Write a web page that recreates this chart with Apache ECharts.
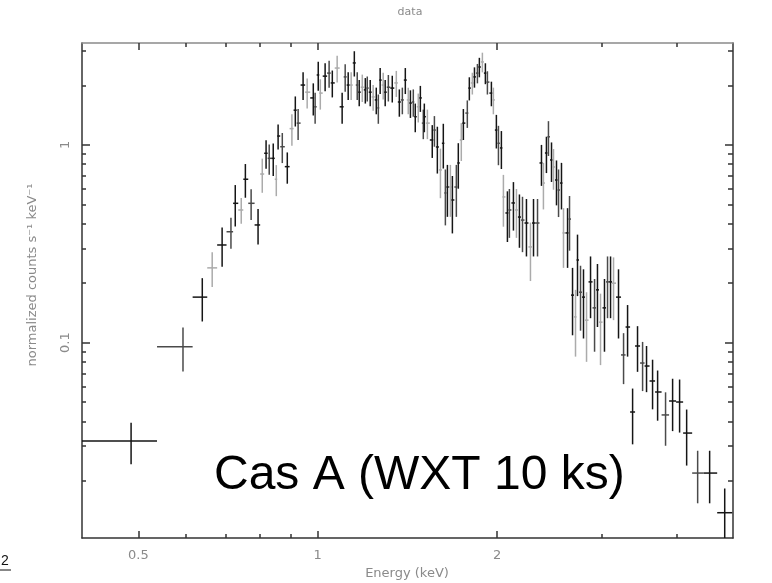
<!DOCTYPE html>
<html>
<head>
<meta charset="utf-8">
<script src="https://cdn.jsdelivr.net/npm/echarts@6/dist/echarts.min.js"></script>
<style>
html, body { margin: 0; padding: 0; background: #fff; }
#spec { width: 772px; height: 583px; }
</style>
</head>
<body>
<div id="spec"></div>
<script>
// channel energies (keV), normalized counts s^-1 keV^-1 and 1-sigma errors
var energy = [
  0.486, 0.594, 0.640, 0.665, 0.691, 0.715, 0.727, 0.744, 0.756, 0.773,
  0.794, 0.807, 0.819, 0.829, 0.842, 0.852, 0.858, 0.872, 0.889, 0.905,
  0.917, 0.927, 0.945, 0.960, 0.983, 0.990, 1.002, 1.010, 1.029, 1.045,
  1.058, 1.078, 1.099, 1.112, 1.125, 1.138, 1.152, 1.165, 1.174, 1.188,
  1.202, 1.211, 1.225, 1.239, 1.254, 1.264, 1.273, 1.288, 1.298, 1.314,
  1.334, 1.355, 1.371, 1.387, 1.403, 1.419, 1.431, 1.447, 1.458, 1.475,
  1.487, 1.504, 1.510, 1.528, 1.557, 1.570, 1.588, 1.607, 1.625, 1.638,
  1.651, 1.670, 1.683, 1.709, 1.722, 1.742, 1.756, 1.783, 1.797, 1.818,
  1.833, 1.854, 1.868, 1.890, 1.912, 1.927, 1.957, 1.972, 1.995, 2.011,
  2.034, 2.050, 2.082, 2.098, 2.131, 2.156, 2.181, 2.207, 2.241, 2.276,
  2.303, 2.339, 2.375, 2.393, 2.421, 2.440, 2.469, 2.488, 2.517, 2.537,
  2.566, 2.586, 2.627, 2.647, 2.678, 2.709, 2.730, 2.762, 2.794, 2.827,
  2.871, 2.916, 2.949, 2.984, 3.030, 3.066, 3.102, 3.138, 3.199, 3.262,
  3.313, 3.378, 3.443, 3.511, 3.565, 3.649, 3.721, 3.837, 3.943, 4.051,
  4.163, 4.344, 4.550, 4.823
];
var flux = [
  0.0318, 0.0955, 0.170, 0.239, 0.312, 0.364, 0.507, 0.469, 0.671, 0.507,
  0.394, 0.713, 0.908, 0.856, 0.856, 0.671, 1.11, 0.98, 0.777, 1.21,
  1.50, 1.29, 2.01, 1.85, 1.73, 1.56, 2.26, 1.83, 2.23, 2.31,
  2.06, 2.45, 1.56, 2.21, 2.01, 2.01, 2.60, 2.01, 1.85, 1.96,
  1.90, 1.94, 1.85, 1.75, 1.69, 1.54, 2.13, 2.01, 1.85, 1.96,
  1.94, 2.06, 1.65, 1.69, 2.13, 1.69, 1.63, 1.65, 1.39, 1.56,
  1.73, 1.29, 1.39, 1.29, 1.06, 1.19, 0.977, 0.748, 1.02, 0.572,
  0.613, 0.613, 0.527, 0.613, 0.811, 1.06, 1.29, 1.45, 1.94, 2.06,
  2.21, 2.31, 2.48, 2.63, 2.31, 2.08, 1.83, 1.69, 1.19, 1.02,
  0.966, 0.546, 0.453, 0.469, 0.509, 0.469, 0.432, 0.417, 0.403, 0.305,
  0.403, 0.403, 0.811, 0.642, 0.911, 1.10, 0.84, 0.774, 0.665, 0.592,
  0.642, 0.359, 0.359, 0.422, 0.174, 0.135, 0.262, 0.180, 0.170, 0.130,
  0.203, 0.150, 0.185, 0.127, 0.150, 0.203, 0.203, 0.200, 0.170, 0.0867,
  0.120, 0.0446, 0.0962, 0.0789, 0.0762, 0.0640, 0.0563, 0.0431, 0.0507, 0.0501,
  0.0349, 0.0219, 0.0219, 0.0138
];
var sigma = [
  0.0075, 0.024, 0.042, 0.048, 0.07, 0.065, 0.12, 0.07, 0.13, 0.09,
  0.08, 0.14, 0.15, 0.15, 0.16, 0.12, 0.16, 0.17, 0.14, 0.22,
  0.26, 0.23, 0.32, 0.32, 0.32, 0.28, 0.38, 0.32, 0.36, 0.36,
  0.32, 0.38, 0.28, 0.35, 0.32, 0.32, 0.38, 0.32, 0.28, 0.31,
  0.28, 0.28, 0.28, 0.26, 0.26, 0.26, 0.32, 0.31, 0.28, 0.3,
  0.3, 0.31, 0.26, 0.26, 0.32, 0.26, 0.26, 0.26, 0.23, 0.26,
  0.26, 0.22, 0.23, 0.22, 0.2, 0.21, 0.26, 0.21, 0.26, 0.18,
  0.18, 0.18, 0.17, 0.18, 0.21, 0.23, 0.23, 0.23, 0.26, 0.26,
  0.26, 0.26, 0.28, 0.3, 0.28, 0.28, 0.26, 0.26, 0.23, 0.23,
  0.21, 0.16, 0.13, 0.13, 0.14, 0.13, 0.13, 0.13, 0.13, 0.1,
  0.13, 0.13, 0.19, 0.17, 0.19, 0.22, 0.19, 0.18, 0.17, 0.16,
  0.17, 0.12, 0.12, 0.13, 0.065, 0.05, 0.09, 0.065, 0.065, 0.05,
  0.07, 0.06, 0.065, 0.05, 0.06, 0.07, 0.07, 0.07, 0.065, 0.025,
  0.035, 0.014, 0.025, 0.022, 0.02, 0.018, 0.016, 0.013, 0.015, 0.015,
  0.011, 0.0065, 0.0065, 0.0045
];

// axis ranges and ticks
var xRange = [0.402, 4.98];
var yRange = [0.01028, 3.28];
var majorX = [0.5, 1, 2];
var minorX = [0.6, 0.7, 0.8, 0.9, 3, 4];
var majorY = [0.1, 1];
var minorY = [0.02, 0.03, 0.04, 0.05, 0.06, 0.07, 0.08, 0.09,
              0.2, 0.3, 0.4, 0.5, 0.6, 0.7, 0.8, 0.9, 2, 3];
var firstBinLo = 0.38;

var lg = Math.log10;
var myChart = echarts.init(document.getElementById('spec'));

// bins: edges halfway (in log) between neighbouring channels
var points = [];
for (var i = 0; i < energy.length; i++) {
    var lo = i === 0 ? firstBinLo : Math.sqrt(energy[i - 1] * energy[i]);
    var hi = i === energy.length - 1 ? energy[i] * energy[i] / lo : Math.sqrt(energy[i] * energy[i + 1]);
    var fLo = Math.max(flux[i] - sigma[i], 1e-4);
    points.push([lg(energy[i]), lg(flux[i]), lg(lo), lg(hi), lg(fLo), lg(flux[i] + sigma[i])]);
}

function renderBar(params, api) {
    var a = api.coord([api.value(2), api.value(1)]);
    var b = api.coord([api.value(3), api.value(1)]);
    var t = api.coord([api.value(0), api.value(5)]);
    var d = api.coord([api.value(0), api.value(4)]);
    var k = params.dataIndex % 4;
    var col = '#151515';
    if (k === 3 && params.dataIndex < 128) col = '#ababab';
    else if (k === 1) col = '#4a4a4a';
    return {
        type: 'group',
        children: [
            { type: 'line', shape: { x1: a[0], y1: a[1], x2: b[0], y2: b[1] }, style: { stroke: col, lineWidth: 1.5 } },
            { type: 'line', shape: { x1: t[0], y1: t[1], x2: d[0], y2: d[1] }, style: { stroke: col, lineWidth: 1.5 } }
        ]
    };
}

function fmt(v) {
    return String(+Math.pow(10, v).toPrecision(3));
}

function xAxisDef(pos, ticks, len, lineOn, labelOn) {
    return {
        type: 'value',
        min: lg(xRange[0]),
        max: lg(xRange[1]),
        position: pos,
        axisLine: { show: lineOn, onZero: false, lineStyle: { color: pos === 'top' ? '#8a8a8a' : '#333', width: 1.5 } },
        axisTick: { show: true, inside: true, length: len, customValues: ticks.map(lg), lineStyle: { color: '#333', width: 1.5 } },
        axisLabel: {
            show: labelOn,
            customValues: majorX.map(lg),
            formatter: fmt,
            color: '#8a8a8a',
            fontSize: 13,
            fontFamily: 'DejaVu Sans',
            margin: 11
        },
        splitLine: { show: false }
    };
}

function yAxisDef(pos, ticks, len, lineOn, labelOn) {
    return {
        type: 'value',
        min: lg(yRange[0]),
        max: lg(yRange[1]),
        position: pos,
        axisLine: { show: lineOn, onZero: false, lineStyle: { color: '#333', width: 1.5 } },
        axisTick: { show: true, inside: true, length: len, customValues: ticks.map(lg), lineStyle: { color: '#333', width: 1.5 } },
        axisLabel: {
            show: labelOn,
            customValues: majorY.map(lg),
            formatter: fmt,
            rotate: 90,
            color: '#8a8a8a',
            fontSize: 13,
            fontFamily: 'DejaVu Sans',
            margin: 10
        },
        splitLine: { show: false }
    };
}

var option = {
    animation: false,
    backgroundColor: '#fff',
    grid: { left: 82, right: 39, top: 43, bottom: 45, containLabel: false },
    xAxis: [
        xAxisDef('bottom', majorX, 7, true, true),
        xAxisDef('bottom', minorX, 4, false, false),
        xAxisDef('top', majorX, 7, true, false),
        xAxisDef('top', minorX, 4, false, false)
    ],
    yAxis: [
        yAxisDef('left', majorY, 8, true, true),
        yAxisDef('left', minorY, 4, false, false),
        yAxisDef('right', majorY, 8, true, false),
        yAxisDef('right', minorY, 5, false, false)
    ],
    graphic: [
        { type: 'text', x: 410, y: 12, style: { text: 'data', fill: '#8a8a8a', font: '11px DejaVu Sans', align: 'center', verticalAlign: 'middle', textAlign: 'center', textVerticalAlign: 'middle' } },
        { type: 'text', x: 407, y: 574, style: { text: 'Energy (keV)', fill: '#8a8a8a', font: '13px DejaVu Sans', align: 'center', verticalAlign: 'middle', textAlign: 'center', textVerticalAlign: 'middle' } },
        { type: 'text', x: 33, y: 275, rotation: Math.PI / 2, style: { text: 'normalized counts s⁻¹ keV⁻¹', fill: '#8a8a8a', font: '13px DejaVu Sans', align: 'center', verticalAlign: 'middle', textAlign: 'center', textVerticalAlign: 'middle' } },
        { type: 'text', x: 214, y: 476, style: { text: 'Cas A (WXT 10 ks)', fill: '#000', font: '48px Liberation Sans', align: 'left', verticalAlign: 'middle', textAlign: 'left', textVerticalAlign: 'middle' } },
        { type: 'text', x: 1, y: 561, style: { text: '2', fill: '#111', font: '14px Liberation Sans', align: 'left', verticalAlign: 'middle', textAlign: 'left', textVerticalAlign: 'middle' } },
        { type: 'line', shape: { x1: 0, y1: 570, x2: 11, y2: 570 }, style: { stroke: '#111', lineWidth: 1 } }
    ],
    series: [{
        type: 'custom',
        xAxisIndex: 0,
        yAxisIndex: 0,
        clip: true,
        renderItem: renderBar,
        data: points
    }]
};
myChart.setOption(option);
</script>
</body>
</html>
